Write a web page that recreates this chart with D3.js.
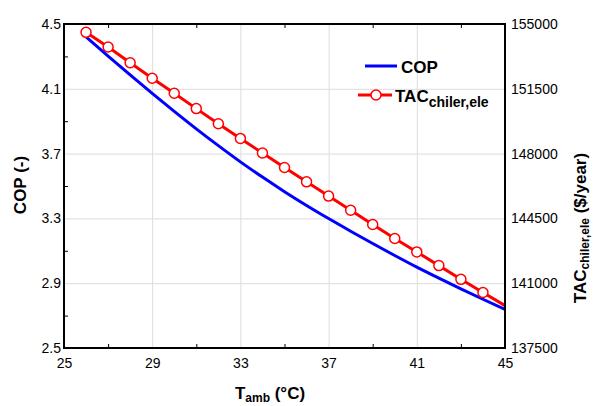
<!DOCTYPE html>
<html>
<head>
<meta charset="utf-8">
<script src="https://cdnjs.cloudflare.com/ajax/libs/d3/7.8.5/d3.min.js"></script>
<style>
    body { margin: 0; background: #fff; }
    text { font-family: "Liberation Sans", Arial, sans-serif; }
    .grid line { stroke: #dcdcdc; stroke-width: 1; }
    .grid path { display: none; }
    .minor path { display: none; }
    .minor line { stroke: #000; stroke-width: 1; }
    .labels path, .labels line { display: none; }
    .labels text { font-size: 14px; fill: #000; }
</style>
</head>
<body>
<div id="chart"></div>
<script>
// ambient temperature (°C)
var temps = [26, 27, 28, 29, 30, 31, 32, 33, 34, 35, 36, 37, 38, 39, 40, 41, 42, 43, 44, 45];
// COP (-)
var cop = [4.42, 4.302, 4.186, 4.072, 3.961, 3.853, 3.749, 3.649, 3.555, 3.465,
           3.38, 3.299, 3.221, 3.145, 3.071, 2.999, 2.931, 2.865, 2.801, 2.739];
// TAC chiler,ele ($/year)
var tac = [154550, 153760, 152910, 152070, 151260, 150430, 149610, 148820, 148030, 147250,
           146475, 145705, 144940, 144170, 143415, 142690, 141950, 141210, 140500, 139790];

var xTicks = [25, 29, 33, 37, 41, 45];
var xMinorTicks = [27, 31, 35, 39, 43];
var xGrid = [29, 33, 37, 41];
var copTicks = [2.5, 2.9, 3.3, 3.7, 4.1, 4.5];
var copMinorTicks = [2.7, 3.1, 3.5, 3.9, 4.3];
var copGrid = [2.9, 3.3, 3.7, 4.1];
var tacTicks = [137500, 141000, 144500, 148000, 151500, 155000];

var W = 593, H = 406;
var margin = { top: 24, left: 64, bottom: 58, right: 88 };
var w = W - margin.left - margin.right;
var h = H - margin.top - margin.bottom;

var svg = d3.select('#chart').append('svg')
    .attr('width', W)
    .attr('height', H);

var g = svg.append('g')
    .attr('transform', 'translate(' + margin.left + ',' + margin.top + ')');

var x = d3.scaleLinear().domain([25, 45]).range([0, w]);
var yL = d3.scaleLinear().domain([2.5, 4.5]).range([h, 0]);
var yR = d3.scaleLinear().domain([137500, 155000]).range([h, 0]);

// grid
g.append('g').attr('class', 'grid')
    .attr('transform', 'translate(0,' + h + ')')
    .call(d3.axisBottom(x).tickValues(xGrid).tickSize(-h).tickFormat(''));
g.append('g').attr('class', 'grid')
    .call(d3.axisLeft(yL).tickValues(copGrid).tickSize(-w).tickFormat(''));

// minor ticks pointing inward
g.append('g').attr('class', 'minor')
    .attr('transform', 'translate(0,' + h + ')')
    .call(d3.axisBottom(x).tickValues(xMinorTicks).tickSize(-4).tickFormat(''));
g.append('g').attr('class', 'minor')
    .call(d3.axisTop(x).tickValues(xMinorTicks).tickSize(-4).tickFormat(''));
g.append('g').attr('class', 'minor')
    .call(d3.axisLeft(yL).tickValues(copMinorTicks).tickSize(-4).tickFormat(''));

// tick labels
g.append('g').attr('class', 'labels')
    .attr('transform', 'translate(0,' + h + ')')
    .call(d3.axisBottom(x).tickValues(xTicks).tickSize(0).tickPadding(10).tickFormat(d3.format('d')));
g.append('g').attr('class', 'labels')
    .call(d3.axisLeft(yL).tickValues(copTicks).tickSize(0).tickPadding(3).tickFormat(d3.format('.1f')));
g.append('g').attr('class', 'labels')
    .attr('transform', 'translate(' + w + ',0)')
    .call(d3.axisRight(yR).tickValues(tacTicks).tickSize(0).tickPadding(6).tickFormat(d3.format('d')));

// clip
svg.append('clipPath').attr('id', 'clip')
    .append('rect').attr('width', w).attr('height', h);

var plot = g.append('g').attr('clip-path', 'url(#clip)');

var copLine = d3.line()
    .x(function (d, i) { return x(temps[i]); })
    .y(function (d) { return yL(d); })
    .curve(d3.curveMonotoneX);

var tacLine = d3.line()
    .x(function (d, i) { return x(temps[i]); })
    .y(function (d) { return yR(d); });

plot.append('path')
    .datum(cop)
    .attr('d', copLine)
    .attr('fill', 'none')
    .attr('stroke', '#0000ff')
    .attr('stroke-width', 3);

plot.append('path')
    .datum(tac)
    .attr('d', tacLine)
    .attr('fill', 'none')
    .attr('stroke', '#ff0000')
    .attr('stroke-width', 3);

// markers, last point has none
plot.selectAll('circle.tac')
    .data(tac.slice(0, tac.length - 1))
    .enter()
    .append('circle')
    .attr('class', 'tac')
    .attr('cx', function (d, i) { return x(temps[i]); })
    .attr('cy', function (d) { return yR(d); })
    .attr('r', 5)
    .attr('fill', '#fff')
    .attr('stroke', '#ff0000')
    .attr('stroke-width', 1.5);

// frame
g.append('rect')
    .attr('width', w)
    .attr('height', h)
    .attr('fill', 'none')
    .attr('stroke', '#000')
    .attr('stroke-width', 2);

// axis titles
svg.append('text')
    .attr('transform', 'translate(26,185) rotate(-90)')
    .attr('text-anchor', 'middle')
    .style('font-size', '17px')
    .style('font-weight', 'bold')
    .text('COP (-)');

var xt = svg.append('text')
    .attr('x', 270)
    .attr('y', 399)
    .attr('text-anchor', 'middle')
    .style('font-size', '17px')
    .style('font-weight', 'bold');
xt.append('tspan').text('T');
xt.append('tspan').attr('dy', 3).style('font-size', '12px').text('amb');
xt.append('tspan').attr('dy', -3).text(' (°C)');

var yt = svg.append('text')
    .attr('transform', 'translate(586,228) rotate(-90)')
    .attr('text-anchor', 'middle')
    .style('font-size', '17px')
    .style('font-weight', 'bold');
yt.append('tspan').text('TAC');
yt.append('tspan').attr('dy', 3).style('font-size', '12px').text('chiler,ele');
yt.append('tspan').attr('dy', -3).text(' ($/year)');

// legend
var legend = svg.append('g');
legend.append('line')
    .attr('x1', 365).attr('x2', 397)
    .attr('y1', 66).attr('y2', 66)
    .attr('stroke', '#0000ff')
    .attr('stroke-width', 3);
legend.append('text')
    .attr('x', 401).attr('y', 73)
    .style('font-size', '17px')
    .style('font-weight', 'bold')
    .text('COP');

legend.append('line')
    .attr('x1', 358).attr('x2', 392)
    .attr('y1', 95).attr('y2', 95)
    .attr('stroke', '#ff0000')
    .attr('stroke-width', 3);
legend.append('circle')
    .attr('cx', 376).attr('cy', 95).attr('r', 5)
    .attr('fill', '#fff')
    .attr('stroke', '#ff0000')
    .attr('stroke-width', 1.5);
var lt = legend.append('text')
    .attr('x', 395).attr('y', 102)
    .style('font-size', '17px')
    .style('font-weight', 'bold');
lt.append('tspan').text('TAC');
lt.append('tspan').attr('dy', 5).style('font-size', '14px').text('chiler,ele');
</script>
</body>
</html>
